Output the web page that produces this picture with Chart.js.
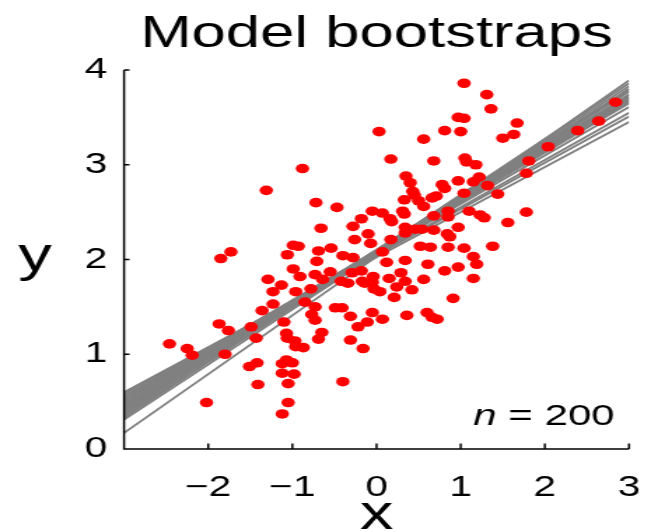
<!DOCTYPE html>
<html><head><meta charset="utf-8">
<script src="https://cdn.jsdelivr.net/npm/chart.js@4/dist/chart.umd.min.js"></script>
<style>
html,body{margin:0;padding:0;background:#fff;overflow:hidden}
#wrap{width:645px;height:532px;overflow:hidden;position:relative}
#c{position:absolute;left:0;top:0;transform-origin:0 0;transform:scaleX(1.4)}
</style></head><body><div id="wrap"><canvas id="c" width="461" height="532" style="width:461px;height:532px"></canvas></div>
<script>
// ---- data ----
const pointsX = [-2.46,-2.25,-2.19,-2.02,-1.87,-1.85,-1.76,-1.80,-1.73,-1.51,-1.49,-1.43,-1.42,-1.41,-1.36,-1.31,-1.29,-1.23,-1.23,-1.13,
-1.12,-1.12,-1.12,-1.10,-1.07,-1.06,-1.07,-1.05,-1.05,-1.06,-0.99,-0.99,-1.00,-0.98,-0.97,-0.96,-0.96,-0.93,-0.91,-0.88,
-0.87,-0.85,-0.78,-0.77,-0.73,-0.73,-0.73,-0.72,-0.71,-0.69,-0.69,-0.66,-0.65,-0.64,-0.55,-0.54,-0.49,-0.47,-0.42,-0.41,
-0.40,-0.40,-0.34,-0.31,-0.31,-0.28,-0.28,-0.29,-0.26,-0.22,-0.18,-0.18,-0.17,-0.16,-0.14,-0.11,-0.10,-0.07,-0.05,-0.05,
-0.05,-0.04,-0.03,0.03,0.04,0.07,0.07,0.07,0.12,0.15,0.16,0.18,0.17,0.17,0.21,0.24,0.29,0.31,0.33,0.33,
0.34,0.34,0.34,0.34,0.35,0.36,0.40,0.42,0.43,0.45,0.46,0.50,0.52,0.54,0.56,0.56,0.56,0.60,0.61,0.64,
0.66,0.66,0.68,0.68,0.68,0.71,0.72,0.78,0.81,0.81,0.81,0.84,0.85,0.85,0.85,0.87,0.91,0.97,0.97,0.97,
0.97,1.00,1.04,1.04,1.04,1.04,1.05,1.07,1.10,1.15,1.15,1.15,1.18,1.19,1.22,1.23,1.28,1.31,1.32,1.36,
1.38,1.44,1.50,1.56,1.63,1.67,1.78,1.78,1.81,2.04,2.39,2.64,2.84];
const pointsY = [1.11,1.06,0.99,0.49,1.32,2.01,1.25,1.00,2.08,0.87,1.29,1.17,0.91,0.68,1.46,2.73,1.79,1.66,1.53,1.73,
0.90,0.80,0.37,1.34,1.22,1.17,0.94,0.69,0.49,2.05,2.15,1.90,0.91,0.79,1.14,1.08,1.66,2.14,1.82,2.96,
1.07,1.55,1.69,1.42,1.50,1.36,1.84,2.60,1.98,2.09,1.16,2.33,1.23,1.79,1.87,2.12,1.49,2.55,1.77,1.49,
2.04,0.71,1.75,1.40,1.15,2.35,2.02,1.86,2.21,1.29,2.43,1.88,1.77,1.06,1.75,1.34,2.27,2.17,2.51,1.76,
1.44,1.82,1.69,3.35,1.66,2.08,2.49,1.37,1.97,1.80,2.43,2.40,2.21,3.06,1.60,1.71,1.86,2.51,2.48,2.63,
2.34,2.28,1.99,1.77,2.88,1.41,2.81,1.68,2.72,2.68,2.32,2.62,2.14,2.32,2.56,3.27,1.79,1.44,1.95,2.13,
1.39,2.65,3.04,2.46,2.31,2.67,1.37,2.79,2.75,3.36,1.88,2.27,2.51,2.45,2.13,2.24,1.59,3.50,2.83,2.34,
1.92,3.35,3.86,3.49,2.70,2.12,3.07,3.03,2.51,2.03,1.80,2.82,3.00,1.95,2.87,2.47,2.44,3.74,2.78,3.59,
2.14,2.69,3.28,2.39,3.32,3.44,2.50,2.91,3.04,3.19,3.36,3.46,3.66];
// bootstrap regression lines: y at x = -3 and at x = 3
const bootX = [-3, 3];
const bootLeft  = [0.60,0.58,0.56,0.54,0.53,0.51,0.50,0.48,0.47,0.46,0.45,0.43,0.42,0.40,0.39,0.37,0.35,0.33,0.31,0.17];
const bootRight = [3.45,3.51,3.55,3.61,3.65,3.68,3.66,3.71,3.70,3.74,3.68,3.77,3.72,3.80,3.74,3.83,3.78,3.86,3.80,3.89];
const xTicks = [-2,-1,0,1,2,3];
const yTicks = [0,1,2,3,4];
const titleText = 'Model bootstraps';
const xLabel = 'x', yLabel = 'y';
const nLabel = 'n', nValue = ' = 200';

// ---- drawing ----
const SX = 1.4;
const FONT = '"Liberation Sans", Arial, Helvetica, sans-serif';
const scatterData = pointsX.map((v,i)=>({x:v,y:pointsY[i]}));
const datasets = [{
  type:'scatter', data:scatterData, order:0,
  pointRadius:4.8, pointHoverRadius:4.8, pointBackgroundColor:'#ff0000', pointBorderWidth:0, pointBorderColor:'#ff0000'
}];
bootLeft.forEach((l,i)=>{
  datasets.push({type:'line', order:1, data:[{x:bootX[0],y:l},{x:bootX[1],y:bootRight[i]}],
    borderColor:'#808080', borderWidth:1.9, pointRadius:0, fill:false, tension:0});
});
const deco = {
  id:'deco',
  afterDatasetsDraw(chart){
    const {ctx, chartArea:a, scales:{x,y}} = chart;
    ctx.save();
    ctx.strokeStyle='#000'; ctx.lineWidth=1.5; ctx.lineCap='butt';
    ctx.beginPath();
    ctx.moveTo(a.left, a.top); ctx.lineTo(a.left, a.bottom); ctx.lineTo(a.right, a.bottom);
    for (const v of xTicks){ const px=x.getPixelForValue(v); ctx.moveTo(px,a.bottom); ctx.lineTo(px,a.bottom-5.5); }
    for (const v of yTicks){ const py=y.getPixelForValue(v); ctx.moveTo(a.left,py); ctx.lineTo(a.left+5.5/SX,py); }
    ctx.stroke();
    ctx.fillStyle='#000';
    ctx.font = '44px '+FONT; ctx.textAlign='center'; ctx.textBaseline='alphabetic';
    ctx.fillText(titleText, (a.left+a.right)/2, 47);
    ctx.font = '48px '+FONT;
    ctx.fillText(xLabel, (a.left+a.right)/2, 529);
    ctx.textBaseline='middle';
    ctx.fillText(yLabel, 25, (a.top+a.bottom)/2 - 2);
    ctx.textBaseline='alphabetic'; ctx.textAlign='left';
    ctx.font = '30px '+FONT;
    const wv = ctx.measureText(nValue).width;
    ctx.font = 'italic 30px '+FONT;
    const wn = ctx.measureText(nLabel).width;
    const right = 439;
    ctx.fillText(nLabel, right - wv - wn, 425);
    ctx.font = '30px '+FONT;
    ctx.fillText(nValue, right - wv, 425);
    ctx.restore();
  }
};
const fmt = v => (v<0 ? '\u2212'+Math.abs(v) : String(v));
new Chart(document.getElementById('c'), {
  data:{datasets},
  options:{
    responsive:false, animation:false, devicePixelRatio:1,
    layout:{padding:{top:70, right:11.7, left:0, bottom:0}},
    plugins:{legend:{display:false}, tooltip:{enabled:false}, title:{display:false}},
    scales:{
      x:{type:'linear', min:-3, max:3,
        grid:{display:false, drawTicks:false}, border:{display:false},
        afterBuildTicks:s=>{ s.ticks = xTicks.map(v=>({value:v})); },
        afterFit:s=>{ s.height = 83; s.paddingLeft = 0; s.paddingRight = 0; },
        ticks:{padding:22, color:'#000', font:{family:FONT, size:29}, callback:fmt, maxRotation:0, autoSkip:false}},
      y:{type:'linear', min:0, max:4,
        grid:{display:false, drawTicks:false}, border:{display:false},
        afterBuildTicks:s=>{ s.ticks = yTicks.map(v=>({value:v})); },
        afterFit:s=>{ s.width = 88.6; s.paddingTop = 0; s.paddingBottom = 0; },
        ticks:{padding:12, color:'#000', font:{family:FONT, size:29}, callback:fmt, autoSkip:false}}
    }
  },
  plugins:[deco]
});
</script></body></html>
